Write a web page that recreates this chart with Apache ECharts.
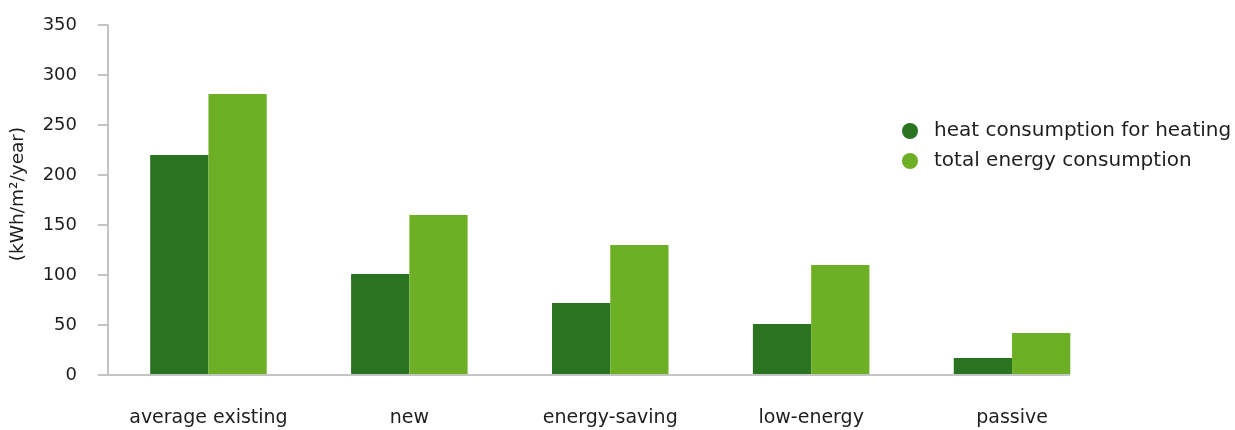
<!DOCTYPE html>
<html><head><meta charset="utf-8">
<script src="https://cdn.jsdelivr.net/npm/echarts@6/dist/echarts.min.js"></script>
<style>html,body{margin:0;padding:0;background:#fff}#c{width:1235px;height:430px}</style>
</head><body><div id="c"></div>
<script>
const categories = ['average existing', 'new', 'energy-saving', 'low-energy', 'passive'];
const heating = [220, 101, 72, 51, 17];
const total = [281, 160, 130, 110, 42];
const yTicks = { min: 0, max: 350, interval: 50 };
const seriesNames = ['heat consumption for heating', 'total energy consumption'];

const font = 'DejaVu Sans, Verdana, sans-serif';
const chart = echarts.init(document.getElementById('c'));
chart.setOption({
  animation: false,
  grid: { left: 108, right: 122.5, top: 25, bottom: 55 },
  legend: {
    orient: 'vertical', left: 897, top: 116, itemGap: 10,
    icon: 'circle', itemWidth: 16, itemHeight: 16,
    textStyle: { fontFamily: font, fontSize: 20, color: '#1e1e1e', padding: [0, 0, 0, 11] },
    data: seriesNames
  },
  xAxis: {
    type: 'category', data: categories,
    axisLine: { show: false },
    axisTick: { show: false },
    axisLabel: { interval: 0, fontFamily: font, fontSize: 19, color: '#1e1e1e', margin: 34 }
  },
  yAxis: {
    type: 'value', min: yTicks.min, max: yTicks.max, interval: yTicks.interval,
    name: '(kWh/m²/year)', nameLocation: 'middle', nameGap: 80, nameRotate: 90,
    nameTextStyle: { fontFamily: font, fontSize: 18.5, color: '#1e1e1e', padding: [0, 0, 0, 12] },
    splitLine: { show: false },
    axisLine: { show: true, lineStyle: { color: '#c4c4c4', width: 2 } },
    axisTick: { show: true, length: 10, lineStyle: { color: '#c4c4c4', width: 2 } },
    axisLabel: { fontFamily: font, fontSize: 18, color: '#1e1e1e', margin: 31 }
  },
  series: [
    { name: seriesNames[0], type: 'bar', data: heating, barGap: '0%', barCategoryGap: '42%',
      itemStyle: { color: '#2a7321' },
      markLine: { silent: true, symbol: 'none', label: { show: false },
        lineStyle: { color: '#c4c4c4', width: 2, type: 'solid' },
        data: [[{ x: 108, yAxis: 0 }, { x: 1070, yAxis: 0 }]] } },
    { name: seriesNames[1], type: 'bar', data: total,
      itemStyle: { color: '#6daf25' } }
  ]
});
</script></body></html>
